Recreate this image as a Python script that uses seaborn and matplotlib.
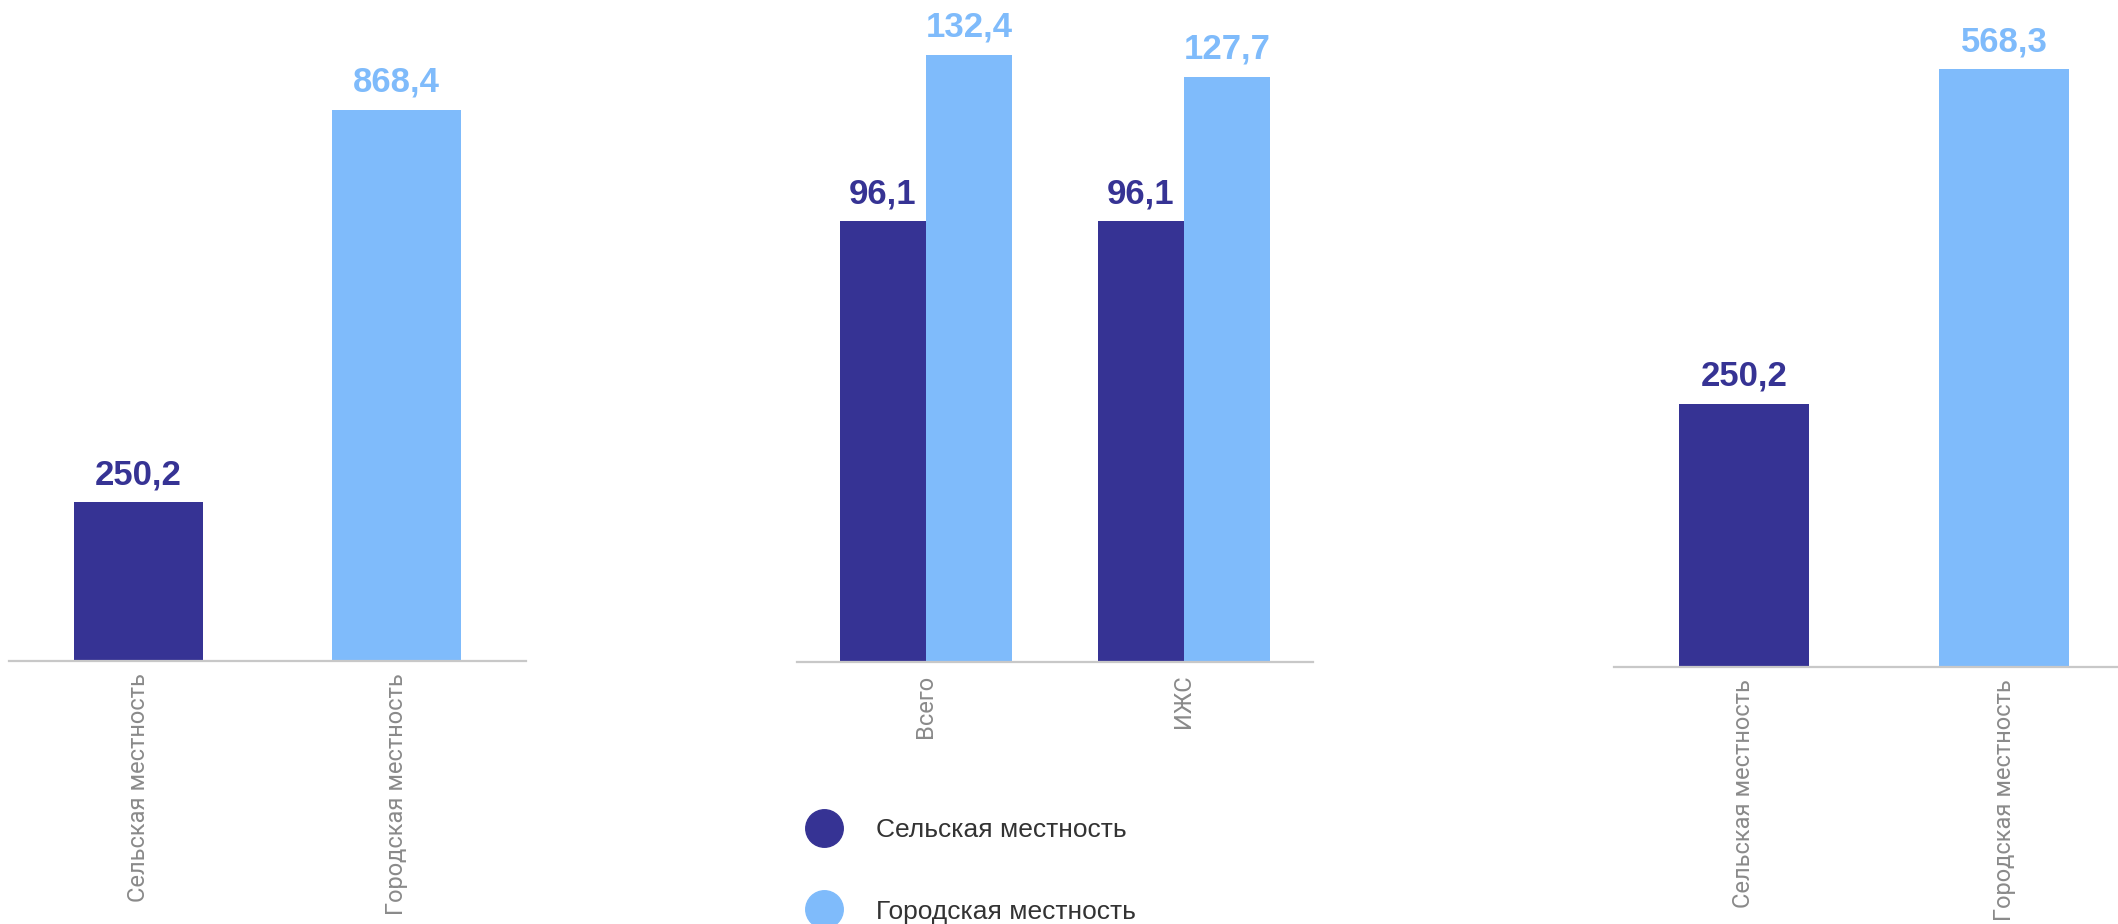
"""Три столбчатые диаграммы: сельская и городская местность."""

import matplotlib
matplotlib.use('Agg')
import matplotlib.pyplot as plt
from matplotlib.lines import Line2D
import pandas as pd
import seaborn as sns

# Данные
areas = ['Сельская местность', 'Городская местность']
left_values = [250.2, 868.4]

groups = ['Всего', 'ИЖС']
rural_values = [96.1, 96.1]
urban_values = [132.4, 127.7]

right_values = [250.2, 568.3]

DARK = '#363394'
LIGHT = '#7fbbfb'
TICK_GREY = '#8a8a8a'
AXIS_GREY = '#c8c8c8'

W, H = 2118, 924

sns.set_theme(style='white')
plt.rcParams['font.family'] = ['Liberation Sans', 'DejaVu Sans']


def fmt(v):
    return f'{v:.1f}'.replace('.', ',')


def style_axes(ax, ymax):
    ax.set_xlim(-0.5, 1.5)
    ax.set_ylim(0, ymax)
    for side in ['top', 'right', 'left']:
        ax.spines[side].set_visible(False)
    ax.spines['bottom'].set_color(AXIS_GREY)
    ax.spines['bottom'].set_linewidth(1.6)
    ax.set_yticks([])
    ax.set_xlabel('')
    ax.set_ylabel('')
    ax.tick_params(axis='x', length=0, pad=9, labelsize=17,
                   labelcolor=TICK_GREY, rotation=90)
    for lbl in ax.get_xticklabels():
        lbl.set_family(['Roboto', 'DejaVu Sans'])
    ax.set_facecolor('none')
    if ax.get_legend() is not None:
        ax.get_legend().remove()


def add_labels(ax, colors):
    for cont, c in zip(ax.containers, colors):
        ax.bar_label(cont, labels=[fmt(b.get_height()) for b in cont],
                     padding=8, color=c, fontsize=25, fontweight='bold')


fig = plt.figure(figsize=(W / 100, H / 100), dpi=100)

# Левая панель
ax1 = fig.add_axes([9 / W, (H - 661) / H, 517 / W, 661 / H])
df1 = pd.DataFrame({'area': areas, 'value': left_values})
sns.barplot(data=df1, x='area', y='value', hue='area', order=areas,
            hue_order=areas, palette=[DARK, LIGHT], width=0.5,
            saturation=1, linewidth=0, ax=ax1, legend=False)
style_axes(ax1, 1041)
add_labels(ax1, [DARK, LIGHT])

# Средняя панель
ax2 = fig.add_axes([797 / W, (H - 662) / H, 516 / W, 662 / H])
df2 = pd.DataFrame({
    'group': groups * 2,
    'area': [areas[0]] * 2 + [areas[1]] * 2,
    'value': rural_values + urban_values,
})
sns.barplot(data=df2, x='group', y='value', hue='area', order=groups,
            hue_order=areas, palette=[DARK, LIGHT], width=0.67,
            saturation=1, gap=0, linewidth=0, ax=ax2)
style_axes(ax2, 144.4)
add_labels(ax2, [DARK, LIGHT])

# Правая панель
ax3 = fig.add_axes([1614 / W, (H - 667) / H, 520 / W, 667 / H])
df3 = pd.DataFrame({'area': areas, 'value': right_values})
sns.barplot(data=df3, x='area', y='value', hue='area', order=areas,
            hue_order=areas, palette=[DARK, LIGHT], width=0.5,
            saturation=1, linewidth=0, ax=ax3, legend=False)
style_axes(ax3, 634)
add_labels(ax3, [DARK, LIGHT])

# Легенда
handles = [Line2D([], [], linestyle='none', marker='o', markersize=27,
                  markerfacecolor=c, markeredgecolor=c) for c in [DARK, LIGHT]]
fig.legend(handles, areas, loc='upper left',
           bbox_to_anchor=(810 / W, (H - 818) / H), frameon=False,
           fontsize=19, labelcolor='#333333', handlelength=1.05,
           handletextpad=1.45, labelspacing=2.18, borderpad=0,
           borderaxespad=0)

fig.savefig('out.png', dpi=100)
plt.close(fig)
